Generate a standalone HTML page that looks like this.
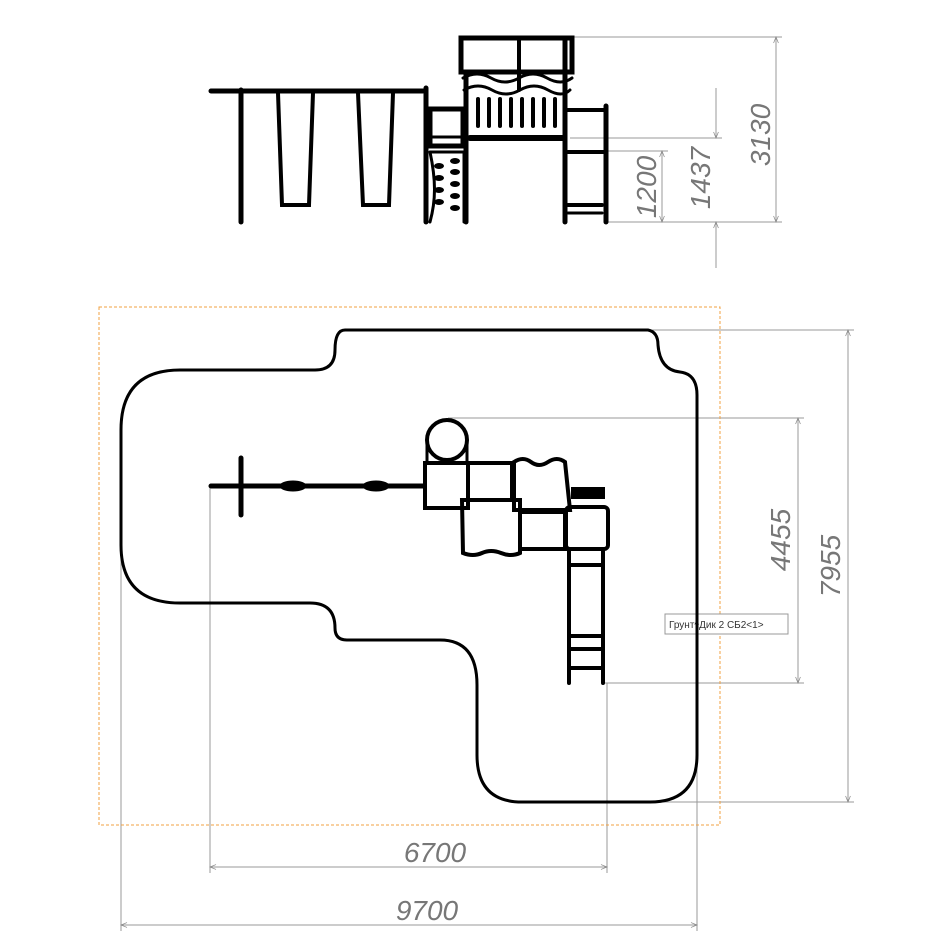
<!DOCTYPE html>
<html><head><meta charset="utf-8"><style>body{margin:0;background:#fff}svg{display:block}</style></head><body>
<svg width="930" height="949" viewBox="0 0 930 949" xmlns="http://www.w3.org/2000/svg">
<defs><marker id="a" viewBox="0 0 10 10" refX="10" refY="5" markerWidth="10" markerHeight="6" orient="auto-start-reverse"><path d="M0,1L10,5L0,9" fill="none" stroke="#888" stroke-width="1.2"/></marker></defs>
<g stroke="#999" stroke-width="1" fill="none">
<line x1="572" y1="37" x2="782" y2="37"/><line x1="606" y1="222" x2="782" y2="222"/>
<line x1="776" y1="37" x2="776" y2="222" marker-start="url(#a)" marker-end="url(#a)"/>
<line x1="570" y1="138" x2="722" y2="138"/>
<line x1="716" y1="88" x2="716" y2="138" marker-end="url(#a)"/><line x1="716" y1="268" x2="716" y2="222" marker-end="url(#a)"/>
<line x1="606" y1="151" x2="668" y2="151"/>
<line x1="662" y1="151" x2="662" y2="222" marker-start="url(#a)" marker-end="url(#a)"/>
<line x1="650" y1="330" x2="854" y2="330"/><line x1="650" y1="802" x2="854" y2="802"/>
<line x1="848" y1="330" x2="848" y2="802" marker-start="url(#a)" marker-end="url(#a)"/>
<line x1="448" y1="418" x2="804" y2="418"/><line x1="605" y1="683" x2="804" y2="683"/>
<line x1="798" y1="418" x2="798" y2="683" marker-start="url(#a)" marker-end="url(#a)"/>
<line x1="210" y1="487" x2="210" y2="873"/><line x1="607" y1="683" x2="607" y2="873"/>
<line x1="210" y1="867" x2="607" y2="867" marker-start="url(#a)" marker-end="url(#a)"/>
<line x1="121" y1="555" x2="121" y2="931"/><line x1="697" y1="740" x2="697" y2="931"/>
<line x1="121" y1="925" x2="697" y2="925" marker-start="url(#a)" marker-end="url(#a)"/>
</g>
<rect x="99" y="307" width="621" height="518" fill="none" stroke="#f0a040" stroke-width="1" stroke-dasharray="3,2"/>
<g font-family="Liberation Sans, sans-serif" font-style="italic" font-size="28" fill="#777">
<text transform="translate(770,135) rotate(-90)" text-anchor="middle">3130</text>
<text transform="translate(710,178) rotate(-90)" text-anchor="middle">1437</text>
<text transform="translate(656,187) rotate(-90)" text-anchor="middle">1200</text>
<text transform="translate(840,566) rotate(-90)" text-anchor="middle">7955</text>
<text transform="translate(790,540) rotate(-90)" text-anchor="middle">4455</text>
<text x="435" y="862" text-anchor="middle">6700</text>
<text x="427" y="920" text-anchor="middle">9700</text>
</g>
<rect x="665" y="614" width="123" height="20" fill="#fff" stroke="#999"/>
<text x="669" y="628" font-family="Liberation Sans, sans-serif" font-size="10" fill="#333">Грунт^Дик 2 СБ2&lt;1&gt;</text>
<g stroke="#000" fill="none" stroke-linecap="round">
<!-- elevation -->
<line x1="211" y1="91" x2="423" y2="91" stroke-width="5"/>
<line x1="241" y1="90" x2="241" y2="222" stroke-width="5"/>
<path d="M278,93 L282,205 L309,205 L313,93" stroke-width="4"/>
<path d="M358,93 L363,205 L389,205 L393,93" stroke-width="4"/>
<line x1="426" y1="88" x2="426" y2="222" stroke-width="5"/>
<rect x="430" y="109" width="33" height="37" stroke-width="5"/><line x1="430" y1="137" x2="463" y2="137" stroke-width="3"/>
<path d="M430,152 L464,152 L464,222 M430,152 C436,180 436,200 430,222" stroke-width="3"/>
<g fill="#000" stroke="none"><ellipse cx="439" cy="166" rx="5" ry="3"/><ellipse cx="455" cy="161" rx="5" ry="3"/><ellipse cx="439" cy="178" rx="5" ry="3"/><ellipse cx="455" cy="172" rx="5" ry="3"/><ellipse cx="439" cy="190" rx="5" ry="3"/><ellipse cx="455" cy="184" rx="5" ry="3"/><ellipse cx="439" cy="202" rx="5" ry="3"/><ellipse cx="455" cy="196" rx="5" ry="3"/><ellipse cx="455" cy="208" rx="5" ry="3"/></g>
<rect x="461" y="38" width="111" height="34" stroke-width="5"/><line x1="519" y1="40" x2="519" y2="90" stroke-width="4"/>
<path d="M463,78 q14,-8 28,0 t28,0 t28,0 t25,0" stroke-width="3"/>
<path d="M464,90 q14,-8 28,0 t28,0 t28,0 t22,0" stroke-width="3"/>
<line x1="466" y1="72" x2="466" y2="222" stroke-width="5"/><line x1="565" y1="40" x2="565" y2="222" stroke-width="5"/>
<line x1="470" y1="138" x2="563" y2="138" stroke-width="6"/>
<g stroke-width="4"><line x1="478" y1="99" x2="478" y2="126"/><line x1="489" y1="99" x2="489" y2="126"/><line x1="500" y1="99" x2="500" y2="126"/><line x1="511" y1="99" x2="511" y2="126"/><line x1="522" y1="99" x2="522" y2="126"/><line x1="533" y1="99" x2="533" y2="126"/><line x1="544" y1="99" x2="544" y2="126"/><line x1="555" y1="99" x2="555" y2="126"/></g>
<path d="M566,110 L606,110 M568,152 L606,152 M568,205 L602,205" stroke-width="4"/>
<line x1="568" y1="213" x2="602" y2="213" stroke-width="3"/>
<line x1="606" y1="106" x2="606" y2="222" stroke-width="5"/>
<!-- plan outline -->
<path d="M345,330 L648,330 Q658,332 658,345 Q660,370 680,372 Q697,374 697,395 L697,755 Q697,802 650,802 L522,802 Q477,802 477,755 L477,685 Q477,640 440,640 L347,640 Q335,640 335,628 Q335,603 310,603 L180,603 Q121,603 121,545 L121,430 Q121,370 180,370 L315,370 Q335,370 335,350 Q335,330 345,330 Z" stroke-width="3"/>
<!-- plan equipment -->
<line x1="211" y1="486" x2="423" y2="486" stroke-width="5"/>
<line x1="241" y1="458" x2="241" y2="515" stroke-width="5"/>
<ellipse cx="293" cy="486" rx="13" ry="5" fill="#000"/><ellipse cx="376" cy="486" rx="13" ry="5" fill="#000"/>
<circle cx="447" cy="440" r="20" stroke-width="4"/>
<path d="M427,442 L427,462 M467,442 L467,462" stroke-width="3"/>
<rect x="425" y="463" width="43" height="45" stroke-width="4"/>
<rect x="468" y="463" width="44" height="37" stroke-width="4"/>
<path d="M514,462 q9,-6 17,0 t17,0 t17,0 L570,510 L514,510 Z" stroke-width="4"/>
<path d="M462,500 L520,500 L520,553 q-9,4 -19,0 t-19,0 t-19,0 Z" stroke-width="4"/>
<rect x="520" y="512" width="45" height="37" stroke-width="4"/>
<rect x="566" y="507" width="42" height="42" rx="4" stroke-width="4"/>
<rect x="572" y="488" width="32" height="10" fill="#000" stroke-width="2"/>
<path d="M569,549 L569,683 M603,549 L603,683" stroke-width="4"/>
<path d="M570,565 L602,565 M570,636 L602,636 M570,649 L602,649 M570,668 L602,668" stroke-width="4"/>
</g>
</svg>
</body></html>
